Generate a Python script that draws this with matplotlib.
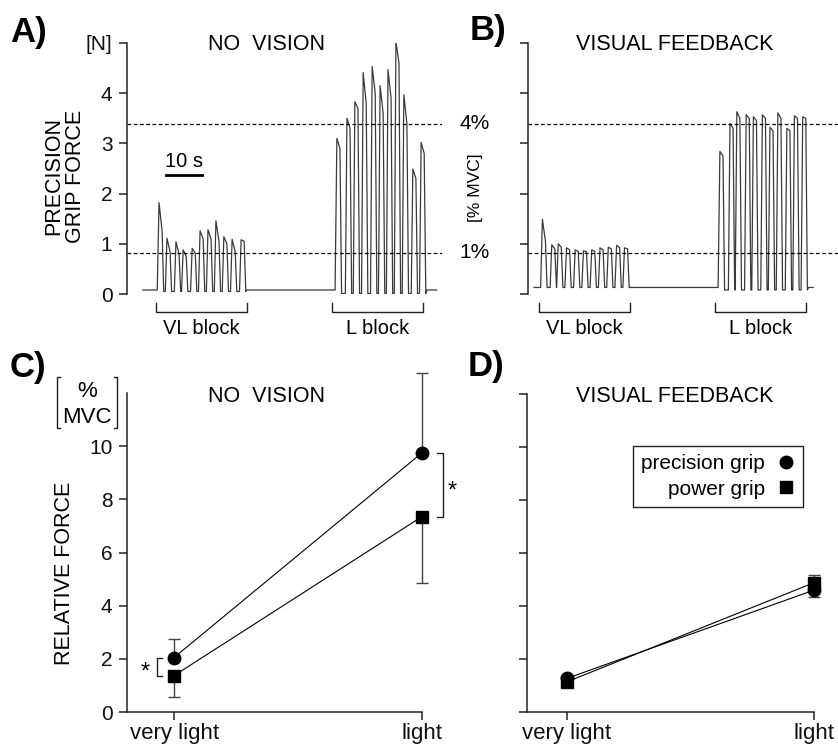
import numpy as np
import matplotlib
matplotlib.use("Agg")
import matplotlib.pyplot as plt
from matplotlib.lines import Line2D

plt.rcParams['font.family'] = ['Liberation Sans', 'DejaVu Sans']

W, H = 838, 750

# --- force traces (time in s, force in N; B drawn on the same vertical scale)
a_vl_time = [8.9, 11.1, 13.6, 15.6, 18.1, 20.3, 22.5, 24.7, 26.9, 29.2, 31.7]
a_vl_peak = [1.82, 1.11, 1.04, 0.88, 0.91, 1.26, 1.28, 1.46, 1.14, 1.09, 1.08]
a_vl_hold = [1.25, 0.85, 0.80, 0.75, 0.82, 1.10, 1.10, 1.05, 1.00, 0.85, 1.05]
a_l_time = [58.3, 61.1, 63.3, 65.6, 68.1, 70.3, 72.5, 74.7, 76.9, 79.4, 81.7]
a_l_peak = [3.10, 3.50, 3.83, 4.41, 4.53, 4.15, 4.47, 5.03, 3.97, 2.49, 3.02]
a_l_hold = [2.90, 3.30, 3.70, 3.80, 4.00, 3.60, 3.90, 4.60, 3.40, 2.30, 2.80]

b_vl_time = [4.0, 6.6, 8.4, 10.7, 13.1, 15.4, 17.7, 20.0, 22.3, 24.6, 26.8]
b_vl_peak = [1.49, 0.98, 1.00, 0.92, 0.88, 0.86, 0.88, 0.92, 0.93, 0.97, 0.92]
b_vl_hold = [1.05, 0.90, 0.93, 0.88, 0.85, 0.84, 0.85, 0.88, 0.90, 0.92, 0.90]
b_l_time = [53.3, 56.1, 58.0, 60.6, 62.6, 65.1, 67.2, 69.4, 71.9, 74.0, 76.3]
b_l_peak = [2.84, 3.40, 3.63, 3.57, 3.53, 3.57, 3.32, 3.61, 3.30, 3.55, 3.53]
b_l_hold = [2.75, 3.30, 3.50, 3.50, 3.45, 3.50, 3.25, 3.50, 3.25, 3.50, 3.50]

target_levels = [3.39, 0.82]          # dashed lines (4 % and 1 % MVC)
target_labels = ['4%', '1%']

# block brackets under the traces (s)
a_blocks = [(8.1, 33.3, 'VL block'), (56.9, 82.2, 'L block')]
b_blocks = [(3.1, 28.3, 'VL block'), (51.9, 77.2, 'L block')]

# --- relative force (% MVC)
levels = ['very light', 'light']
c_prec = [2.05, 9.75]
c_prec_up = [0.68, 3.00]
c_power = [1.37, 7.35]
c_power_dn = [0.80, 2.50]
d_prec = [1.27, 4.60]
d_prec_dn = [0.08, 0.27]
d_power = [1.14, 4.88]
d_power_up = [0.08, 0.29]

INK = '#222222'


def build_trace(t0, t1, base, blocks):
    t, y = [t0], [base]
    for times, peaks, holds, trough in blocks:
        t.append(times[0] - 0.5); y.append(base)
        for i, (tp, pk, hd) in enumerate(zip(times, peaks, holds)):
            if i > 0:
                t.append(tp - 0.45); y.append(trough)
            t += [tp, tp + 0.85]
            y += [pk, hd]
            t.append(tp + 1.3); y.append(trough)
        t.append(times[-1] + 1.6); y.append(base)
    t.append(t1); y.append(base)
    return np.array(t), np.array(y)


def axes_px(l, t, r, b):
    return fig.add_axes([l / W, 1 - b / H, (r - l) / W, (b - t) / H])


def ftext(x, y, s, **kw):
    fig.text(x / W, 1 - y / H, s, **kw)


def fline(xs, ys, **kw):
    fig.add_artist(Line2D([x / W for x in xs], [1 - y / H for y in ys],
                          transform=fig.transFigure, color=INK, lw=1, **kw))


def style(ax, bottom=False):
    for s in ['top', 'right']:
        ax.spines[s].set_visible(False)
    ax.spines['bottom'].set_visible(bottom)
    for s in ['left', 'bottom']:
        ax.spines[s].set_linewidth(1.1)
        ax.spines[s].set_color(INK)
    ax.tick_params(direction='out', length=5.5, width=1.1, color=INK,
                   labelsize=15, pad=5, labelcolor='#111111')
    ax.patch.set_alpha(0)


fig = plt.figure(figsize=(W / 100, H / 100), dpi=100)

# ---------------- A
ax_a = axes_px(127, 43, 442, 294)
style(ax_a)
ta, ya = build_trace(4.4, 86.0, 0.08, [(a_vl_time, a_vl_peak, a_vl_hold, 0.05),
                                        (a_l_time, a_l_peak, a_l_hold, 0.01)])
ax_a.plot(ta, ya, color='#3a3a3a', lw=0.9)
ax_a.set_xlim(0, 87.5)
ax_a.set_ylim(0, 5)
ax_a.set_yticks(range(6))
ax_a.set_yticklabels(['0', '1', '2', '3', '4', '[N]'])
ax_a.set_xticks([])
for lv in target_levels:
    ax_a.axhline(lv, color='k', lw=0.9, ls=(0, (3, 2)))
for x0, x1, lab in a_blocks:
    ax_a.plot([x0, x0, x1, x1], [-0.18, -0.36, -0.36, -0.18], color=INK, lw=1, clip_on=False)
    ax_a.text((x0 + x1) / 2, -0.68, lab, ha='center', va='center', fontsize=14.5)
# 10 s scale bar
ax_a.plot([10.8, 20.8], [2.37, 2.37], color='k', lw=2)
ax_a.text(15.8, 2.45, '10 s', ha='center', va='bottom', fontsize=14.5)
ftext(266, 45, 'NO  VISION', ha='center', va='center', fontsize=15.5)
ftext(65, 176, 'PRECISION\nGRIP FORCE', ha='center', va='center', rotation=90,
      fontsize=15.5, linespacing=1.05)

# ---------------- B
ax_b = axes_px(528, 43, 838, 294)
style(ax_b)
tb, yb = build_trace(1.7, 79.2, 0.13, [(b_vl_time, b_vl_peak, b_vl_hold, 0.13),
                                        (b_l_time, b_l_peak, b_l_hold, 0.08)])
ax_b.plot(tb, yb, color='#3a3a3a', lw=0.9)
ax_b.set_xlim(0, 86.1)
ax_b.set_ylim(0, 5)
ax_b.set_yticks(range(6))
ax_b.set_yticklabels([])
ax_b.set_xticks([])
for lv in target_levels:
    ax_b.axhline(lv, color='k', lw=0.9, ls=(0, (3, 2)))
for x0, x1, lab in b_blocks:
    ax_b.plot([x0, x0, x1, x1], [-0.18, -0.36, -0.36, -0.18], color=INK, lw=1, clip_on=False)
    ax_b.text((x0 + x1) / 2, -0.68, lab, ha='center', va='center', fontsize=14.5)
for lv, lab in zip(target_levels, target_labels):
    ax_b.text(-0.125, lv, lab, transform=ax_b.get_yaxis_transform(), ha='right',
              va='center', fontsize=15)
ftext(675, 45, 'VISUAL FEEDBACK', ha='center', va='center', fontsize=15.5)
ftext(475, 188, '[% MVC]', ha='center', va='center', rotation=90, fontsize=12.5)


# ---------------- C / D
def grip_panel(ax, prec, prec_err, power, power_err, prec_up, left):
    x = np.arange(len(levels))
    ax.plot(x, prec, color='k', lw=0.8, zorder=2, clip_on=False)
    ax.plot(x, power, color='k', lw=0.8, zorder=2, clip_on=False)
    zeros = [0] * len(levels)
    pe = [zeros, prec_err] if prec_up else [prec_err, zeros]
    we = [power_err, zeros] if prec_up else [zeros, power_err]
    for yv, err in [(prec, pe), (power, we)]:
        eb = ax.errorbar(x, yv, yerr=err, fmt='none', ecolor='#444444',
                         elinewidth=1, capsize=4.5, capthick=1, zorder=3)
        for art in list(eb.lines[1]) + list(eb.lines[2]):
            art.set_clip_on(False)
    ax.plot(x, prec, 'o', color='k', ms=9, zorder=4, clip_on=False)
    ax.plot(x, power, 's', color='k', ms=8.5, zorder=4, clip_on=False)
    ax.set_xlim(left, 1.0)
    ax.set_ylim(0, 12)
    ax.set_xticks(x)
    ax.set_xticklabels(levels)
    ax.tick_params(axis='x', length=6, labelsize=16, pad=2)


ax_c = axes_px(127, 393, 422, 712)
style(ax_c, bottom=True)
grip_panel(ax_c, c_prec, c_prec_up, c_power, c_power_dn, True, -0.19)
ax_c.set_yticks(range(0, 11, 2))
# significance brackets
ax_c.plot([-0.048, -0.069, -0.069, -0.048], [c_prec[0], c_prec[0], c_power[0], c_power[0]],
          color=INK, lw=1, clip_on=False)
ax_c.text(-0.115, 1.26, '*', ha='center', va='baseline', fontsize=17)
ax_c.plot([1.06, 1.085, 1.085, 1.06], [c_prec[1], c_prec[1], c_power[1], c_power[1]],
          color=INK, lw=1, clip_on=False)
ax_c.text(1.121, 8.08, '*', ha='center', va='baseline', fontsize=17)
ftext(266, 397, 'NO  VISION', ha='center', va='center', fontsize=15.5)
ftext(64, 573, 'RELATIVE FORCE', ha='center', va='center', rotation=90, fontsize=15.5)
ftext(87, 392, '%', ha='center', va='center', fontsize=16)
ftext(87, 417, 'MVC', ha='center', va='center', fontsize=16)
fline([60, 57, 57, 60], [377, 377, 428, 428])
fline([114, 117, 117, 114], [377, 377, 428, 428])

ax_d = axes_px(527, 394, 814, 712)
style(ax_d, bottom=True)
grip_panel(ax_d, d_prec, d_prec_dn, d_power, d_power_up, False, -0.162)
ax_d.set_yticks(range(0, 13, 2))
ax_d.set_yticklabels([])
ftext(675, 396, 'VISUAL FEEDBACK', ha='center', va='center', fontsize=15.5)
handles = [Line2D([], [], marker='o', ls='none', color='k', ms=9),
           Line2D([], [], marker='s', ls='none', color='k', ms=8.5)]
leg = ax_d.legend(handles, ['precision grip', 'power grip'], loc='upper left',
                  bbox_to_anchor=(633 / W, 1 - 446 / H), bbox_transform=fig.transFigure,
                  markerfirst=False, fancybox=False, framealpha=1, edgecolor=INK,
                  fontsize=15, handlelength=0.8, handletextpad=0.6, borderpad=0.4,
                  labelspacing=0.3, borderaxespad=0)
leg.get_frame().set_linewidth(1)

# panel letters
for x, y, s in [(10, 42, 'A)'), (470, 40, 'B)'), (10, 377, 'C)'), (468, 376, 'D)')]:
    ftext(x, y, s, fontsize=25, fontweight='bold', va='baseline', ha='left')

fig.savefig('out.png', dpi=100)
